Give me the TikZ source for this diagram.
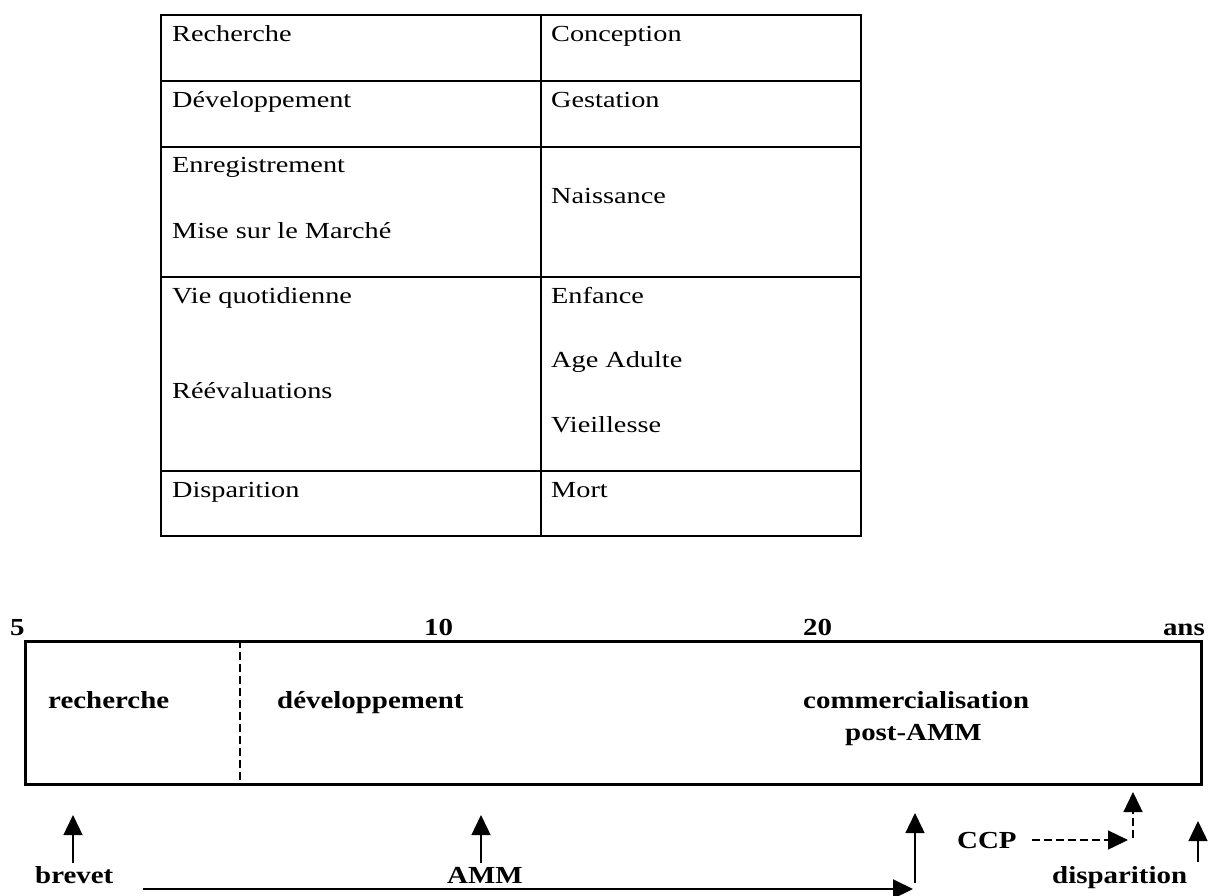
\documentclass[tikz,border=0pt]{standalone}
\usepackage{fontspec}
\usetikzlibrary{arrows.meta}
\newfontfamily\tabfont[FakeStretch=1.23]{Liberation Serif}
\newfontfamily\boldfont[FakeStretch=1.18]{Liberation Serif Bold}
\tikzset{
  cell/.style={inner sep=0pt, anchor=base west, font=\tabfont\fontsize{23}{27}\selectfont},
  lab/.style={inner sep=0pt, anchor=base west, font=\boldfont\fontsize{24.5}{29}\selectfont},
  grid/.style={line width=2pt},
  up/.style={line width=1.4pt, -{Triangle[length=20pt,width=19pt]}},
  dashup/.style={line width=1.4pt, dash pattern=on 8pt off 4pt, -{Triangle[length=20pt,width=19pt]}},
}
\begin{document}
\begin{tikzpicture}[x=1pt,y=-1pt]
\useasboundingbox (0,0) rectangle (1209,896);
% ---------- table ----------
\draw[grid] (161,15) rectangle (861,536);
\draw[grid] (541,15) -- (541,536);
\foreach \yy in {81,147,277,471} \draw[grid] (161,\yy) -- (861,\yy);
\node[cell] (r1) at (172,42) {Recherche};
\node[cell] (c1) at (551,42) {Conception};
\node[cell] (r2) at (172,108) {Développement};
\node[cell] (c2) at (551,108) {Gestation};
\node[cell] (r3a) at (172,173) {Enregistrement};
\node[cell] (r3b) at (172,238) {Mise sur le Marché};
\node[cell] (c3) at (551,204) {Naissance};
\node[cell] (r4a) at (172,303) {Vie quotidienne};
\node[cell] (r4b) at (172,398) {Réévaluations};
\node[cell] (c4a) at (551,303) {Enfance};
\node[cell] (c4b) at (551,367) {Age Adulte};
\node[cell] (c4c) at (551,432) {Vieillesse};
\node[cell] (r5) at (172,497) {Disparition};
\node[cell] (c5) at (551,497) {Mort};
% ---------- timeline ----------
\node[draw, line width=2.5pt, minimum width=1176pt, minimum height=143pt, inner sep=0pt, anchor=north west] (tl) at (24,640) {};
\draw[line width=1.4pt, dash pattern=on 8pt off 4pt] (240,640) -- (240,783);
\node[lab] (t5) at (10,635) {5};
\node[lab] (t10) at (424,635) {10};
\node[lab] (t20) at (803,635) {20};
\node[lab, anchor=base east] (tans) at (1205,635) {ans};
\node[lab] (rech) at (48,708) {recherche};
\node[lab] (dev) at (277,708) {développement};
\node[lab] (com) at (803,708) {commercialisation};
\node[lab] (post) at (845,740) {post-AMM};
\node[lab] (brevet) at (35,883) {brevet};
\node[lab] (amm) at (447,883) {AMM};
\node[lab] (ccp) at (957,848) {CCP};
\node[lab] (disp) at (1052,883) {disparition};
% arrow endpoints
\coordinate (b0) at (73,863);   \coordinate (b1) at (73,815);
\coordinate (a0) at (481,863);  \coordinate (a1) at (481,815);
\coordinate (h0) at (143,889);  \coordinate (h1) at (913,889);
\coordinate (m0) at (915,883);  \coordinate (m1) at (915,813);
\coordinate (e0) at (1198,862); \coordinate (e1) at (1198,821);
\coordinate (c0) at (1032,840); \coordinate (c1e) at (1128,840);
\coordinate (v0) at (1133,838); \coordinate (v1) at (1133,792);
\draw[up] (b0) -- (b1);
\draw[up] (a0) -- (a1);
\draw[up, line width=2pt] (h0) -- (h1);
\draw[up] (m0) -- (m1);
\draw[up] (e0) -- (e1);
\draw[dashup] (c0) -- (c1e);
\draw[dashup] (v0) -- (v1);
\end{tikzpicture}
\end{document}
